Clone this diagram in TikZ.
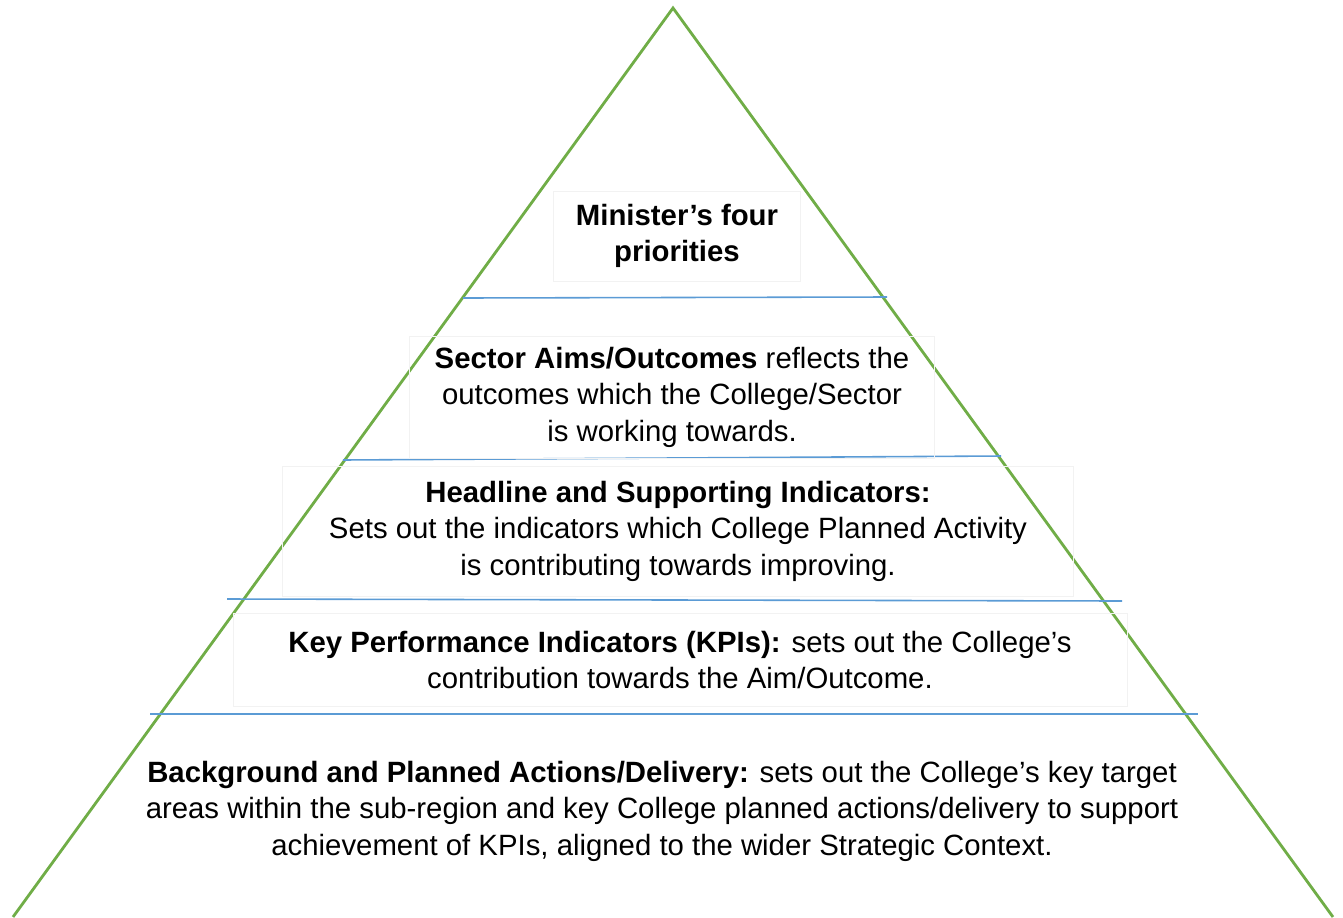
\documentclass[tikz,border=0pt]{standalone}
\usepackage{fontspec}
\setmainfont{Liberation Sans}
\definecolor{pyrgreen}{HTML}{70AD47}
\definecolor{pyrblue}{HTML}{5B9BD5}

\begin{document}
\begin{tikzpicture}[x=0.02cm,y=-0.02cm]
\tikzstyle{every node}=[align=center,inner sep=0pt,font=\fontsize{16.7}{20.8}\selectfont]
\tikzstyle{tierbox}=[draw=black!5,line width=0.4pt]
\tikzstyle{tierline}=[line width=0.9pt,color=pyrblue]
\useasboundingbox (0,0) rectangle (1343,917);
\coordinate (top) at (673,8);
\coordinate (baseleft) at (13,917);
\coordinate (baseright) at (1333,917);
\draw[line width=1.6pt,color=pyrgreen] (baseleft) -- (top) -- (baseright);
\draw[tierline] (463,298) -- (887,297);
\draw[tierline] (343,460) -- (1001,456);
\draw[tierline] (227,599) -- (1122,601);
\draw[tierline] (150,714) -- (1198,714);
\node[tierbox,minimum width=4.94cm,minimum height=1.8cm] (minister) at (677,236)
  {\textbf{Minister’s four}\\\textbf{priorities}};
\node[tierbox,minimum width=10.5cm,minimum height=2.44cm] (sector) at (672,397)
  {\textbf{Sector Aims/Outcomes} reflects the\\outcomes which the College/Sector\\is working towards.};
\node[tierbox,minimum width=15.82cm,minimum height=2.6cm] (headline) at (678,531)
  {\textbf{Headline and Supporting Indicators:}\\Sets out the indicators which College Planned Activity\\is contributing towards improving.};
\node[tierbox,minimum width=17.88cm,minimum height=1.86cm] (kpi) at (680,660)
  {\textbf{Key Performance Indicators (KPIs):} sets out the College’s\\contribution towards the Aim/Outcome.};
\node (delivery) at (662,811)
  {\textbf{Background and Planned Actions/Delivery:} sets out the College’s key target\\areas within the sub-region and key College planned actions/delivery to support\\achievement of KPIs, aligned to the wider Strategic Context.};
\end{tikzpicture}
\end{document}
